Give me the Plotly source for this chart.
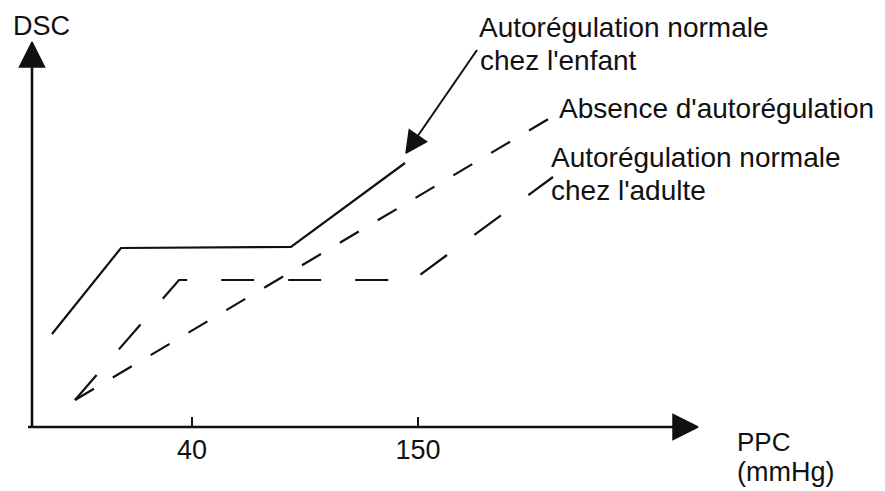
import plotly.graph_objects as go

# Schematic curves (x: PPC schematic units, y: DSC schematic units; origin at the axes corner)
child_x = [21, 90, 260, 374]
child_y = [93, 179, 180, 264]

absence_x = [44, 519]
absence_y = [27, 309]

adult_x = [44, 148, 382, 522]
adult_y = [27, 147, 147, 250]

tick_vals = [161, 387]
tick_text = ["40", "150"]

# pointer arrow from label to child curve
pointer_x = [446, 375]
pointer_y = [377, 274]

INK = "#111111"
FONT = "Liberation Sans"

# the page body adds an 8px offset; compensate in the axis ranges
OFF = 8

fig = go.Figure()

arrow_marker = lambda s: dict(symbol="arrow-up", size=[0, s], angleref="previous", color=INK,
                              opacity=1, line=dict(color=INK, width=1.5))

# axes with arrowheads
fig.add_trace(go.Scatter(x=[1, 1], y=[-1, 385], mode="lines+markers",
                         line=dict(color=INK, width=2.6), marker=arrow_marker(25),
                         hoverinfo="skip", showlegend=False))
fig.add_trace(go.Scatter(x=[-3, 667], y=[0, 0], mode="lines+markers",
                         line=dict(color=INK, width=2.6), marker=arrow_marker(25),
                         hoverinfo="skip", showlegend=False))

# curves
fig.add_trace(go.Scatter(x=child_x, y=child_y, mode="lines",
                         line=dict(color=INK, width=2.2),
                         hoverinfo="skip", showlegend=False))
fig.add_trace(go.Scatter(x=absence_x, y=absence_y, mode="lines",
                         line=dict(color=INK, width=2.2, dash="22px,22px"),
                         hoverinfo="skip", showlegend=False))
fig.add_trace(go.Scatter(x=adult_x, y=adult_y, mode="lines",
                         line=dict(color=INK, width=2.2, dash="33px,34px"),
                         hoverinfo="skip", showlegend=False))

# pointer
fig.add_trace(go.Scatter(x=pointer_x, y=pointer_y, mode="lines+markers",
                         line=dict(color=INK, width=2), marker=arrow_marker(21),
                         hoverinfo="skip", showlegend=False))

labels = [
    ("Autorégulation normale", 446, 400, 28),
    ("chez l'enfant", 447, 367, 28),
    ("Absence d'autorégulation", 526, 319, 28),
    ("Autorégulation normale", 518, 270, 28),
    ("chez l'adulte", 518, 237, 28),
    ("DSC", -20, 401, 27),
    ("PPC", 704, -15, 26),
    ("(mmHg)", 704, -45, 27),
]
for txt, x, y, s in labels:
    fig.add_annotation(x=x, y=y, text=txt, showarrow=False, xanchor="left", yanchor="middle",
                       font=dict(family=FONT, size=s, color=INK))

fig.update_layout(
    width=885, height=491,
    margin=dict(l=0, r=0, t=0, b=0),
    paper_bgcolor="white", plot_bgcolor="white",
    xaxis=dict(range=[-31 + OFF, 854 + OFF], showgrid=False, zeroline=False, showline=False,
               tickmode="array", tickvals=tick_vals, ticktext=tick_text,
               ticks="inside", ticklen=10, tickwidth=2.4, tickcolor=INK,
               tickfont=dict(family=FONT, size=27, color=INK), ticklabelstandoff=4,
               anchor="free", position=(64 + OFF) / 491, automargin=False, fixedrange=True),
    yaxis=dict(range=[-64 - OFF, 427 - OFF], visible=False, fixedrange=True),
)

fig.write_html("out.html")
